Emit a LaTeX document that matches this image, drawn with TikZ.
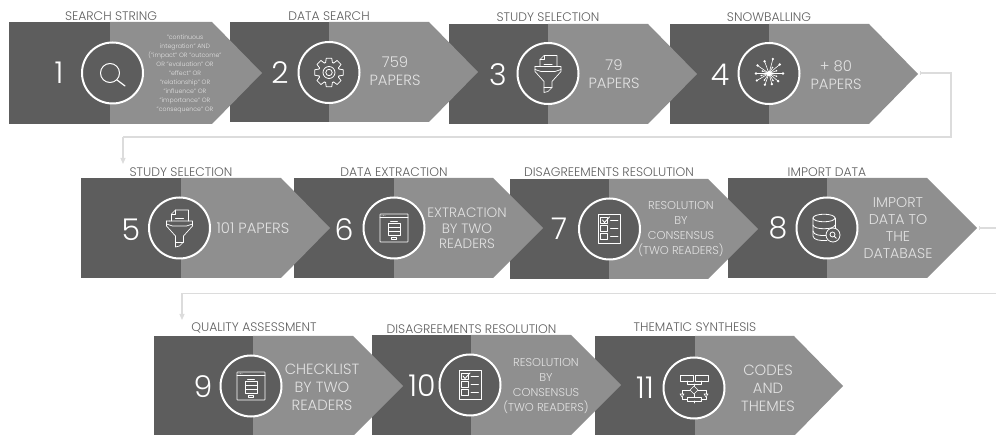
\documentclass[tikz,border=0pt]{standalone}
\usepackage{fontspec}
\setmainfont{Poppins Light}
\usetikzlibrary{arrows.meta}
\definecolor{darkp}{HTML}{5D5D5D}
\definecolor{lightp}{HTML}{8F8F8F}
\definecolor{txtp}{HTML}{E2E2E2}
\definecolor{ttlp}{HTML}{5F5F5F}
\definecolor{linkp}{HTML}{DCDCDC}
\tikzset{
  x=1pt,y=-1pt,
  ring/.style={circle,draw=white,fill=darkp,line width=2pt,minimum size=61pt,inner sep=0pt},
  numtxt/.style={text=white,inner sep=0pt,font=\fontsize{30}{30}\selectfont},
  ttl/.style={text=ttlp,inner sep=0pt,font=\fontsize{12.4}{13}\selectfont},
  body/.style={text=txtp,inner sep=0pt,align=center,font=\fontsize{14.8}{#1}\selectfont},
  body/.default=18,
  midbody/.style={text=txtp,inner sep=0pt,align=center,font=\fontsize{13.6}{15.5}\selectfont},
  dbbody/.style={text=txtp,inner sep=0pt,align=center,font=\fontsize{14.2}{17.3}\selectfont},
  smallbody/.style={text=txtp,inner sep=0pt,align=center,font=\fontsize{11.4}{15}\selectfont},
  tiny/.style={text=txtp,inner sep=0pt,align=center,font=\fontsize{6.2}{9}\selectfont},
  icon/.style={draw=white,line width=0.6pt,line join=round,line cap=round},
  iconthick/.style={draw=white,line width=1.2pt,line cap=round},
  link/.style={draw=linkp,line width=1.1pt,-{Triangle[width=5pt,length=6pt]}},
  linkstart/.style={draw=linkp,line width=1.1pt,{Bar[width=4pt,length=1pt]}-},
  linkplain/.style={draw=linkp,line width=1.1pt},
}
% #1 x-left #2 x-mid #3 x-body #4 x-tip #5 y-top #6 y-bottom
\newcommand{\arrowshape}[6]{%
  \fill[lightp] (#2,#5) -- (#3,#5) -- (#4,{(#5+#6)/2}) -- (#3,#6) -- (#2,#6) -- cycle;
  \fill[darkp] (#1,#5) rectangle (#2+0.3,#6);
}
\newcommand{\iconsearch}[1]{\begin{scope}[shift={(#1)}]
  \draw[icon,line width=1pt] (-2.5,0) circle (9.5);
  \draw[iconthick] (4.5,7) -- (12.5,13);
\end{scope}}
\newcommand{\icongear}[1]{\begin{scope}[shift={(#1)}]
  \foreach \a in {0,45,...,315}{
    \draw[icon,line width=0.8pt] (\a-24:10.5) -- (\a-19:10.5) -- (\a-11:14.5) -- (\a+11:14.5) -- (\a+19:10.5) -- (\a+24:10.5);
  }
  \draw[icon,line width=0.8pt] (0,0) circle (6) (0,0) circle (3.2);
\end{scope}}
\newcommand{\iconfunnel}[1]{\begin{scope}[shift={(#1)}]
  \draw[icon,line width=0.7pt] (-8,-7) -- (-8,-14) -- (-4,-18) -- (9,-18) -- (9,-7);
  \draw[icon,line width=0.7pt] (-4,-18) -- (-4,-14) -- (-8,-14);
  \draw[icon,line width=1pt] (-4,-9) -- (4,-9);
  \draw[icon,line width=0.7pt] (-10,-7) -- (10,-7) (-13,-7) -- (-13,-2) -- (-4,8) -- (-4,19) -- (0,18) -- (4,14) -- (4,8) -- (13,-2) -- (13,-7) -- (10,-7);
  \draw[icon,line width=0.7pt] (-13,-7) -- (-10,-7) (-13,-4) -- (-7,-2) -- (7,-2) -- (13,-4);
  \draw[icon] (-4,14) -- (4,14);
\end{scope}}
\newcommand{\iconsnow}[1]{\begin{scope}[shift={(#1)}]
  \foreach \a/\r in {0/14,40/12,75/11,110/12,150/14,180/13,215/14,250/13,285/15,320/14}{
    \draw[icon] (0,0) -- (\a:\r);
    \fill[white] (\a:\r) circle (1.3);
  }
  \foreach \a/\r in {20/8,60/8,125/8,165/8,200/7,300/7,340/8}{
    \draw[icon] (0,0) -- (\a:\r);
    \fill[white] (\a:\r) circle (0.9);
  }
  \fill[white] (0,0) circle (2.4);
\end{scope}}
\newcommand{\iconwindow}[1]{\begin{scope}[shift={(#1)}]
  \draw[icon,line width=0.7pt,rounded corners=0.5pt] (-14,-14) rectangle (14,14);
  \draw[icon] (-14,-10.5) -- (14,-10.5);
  \fill[white] (-12,-12.3) circle (0.4) (-10.5,-12.3) circle (0.4) (-9,-12.3) circle (0.4);
  \draw[icon] (-3.5,-7) -- (3.5,-7) (-6,-5) rectangle (6,-1) (-6,-1) rectangle (6,3) (-6,3) rectangle (6,7);
  \draw[icon] (-2.5,9) rectangle (2.5,11);
\end{scope}}
\newcommand{\iconlist}[1]{\begin{scope}[shift={(#1)}]
  \draw[icon,line width=0.7pt] (-11,-15) rectangle (11,14);
  \draw[icon,line width=0.8pt] (-9,-11.5) rectangle (-2,-5.5) (-9,-3.5) rectangle (-2,2) (-9,4.5) rectangle (-2,10.5);
  \draw[icon,line width=0.9pt] (-7,-9) -- (-5,-6.5) -- (0,-12);
  \draw[icon,line width=0.9pt] (1,-8.5) -- (8.5,-8.5) (1,-0.5) -- (8.5,-0.5) (1,7.5) -- (8.5,7.5);
\end{scope}}
\newcommand{\icondb}[1]{\begin{scope}[shift={(#1)}]
  \draw[icon,line width=0.8pt] (-3,-10) ellipse [x radius=11,y radius=3.8];
  \draw[icon,line width=0.8pt] (-14,-10) -- (-14,8) .. controls (-14,12) and (-6,13) .. (0,12.5);
  \draw[icon,line width=0.8pt] (8,-10) -- (8,0);
  \draw[icon,line width=0.8pt] (-14,-3) .. controls (-14,2) and (8,2) .. (8,-3);
  \draw[icon,line width=0.8pt] (-14,3) .. controls (-14,7) and (-6,8) .. (-1,7.5);
  \draw[icon,line width=0.8pt,fill=darkp] (6,7) circle (7);
  \draw[icon,line width=0.8pt] (5.5,6.5) circle (2.5) (7.4,8.4) -- (9.3,10.3);
\end{scope}}
\newcommand{\iconflow}[1]{\begin{scope}[shift={(#1)}]
  \draw[icon] (-14,-13) rectangle (-1,-7) (1,-13) rectangle (14,-7);
  \draw[icon] (-7,-7) -- (-7,-4) -- (7,-4) -- (7,-7) (0,-4) -- (0,-2);
  \draw[icon] (0,-2) -- (4,2) -- (0,6) -- (-4,2) -- cycle;
  \draw[icon] (-4,2) -- (-12,2) -- (-12,6) (4,2) -- (12,2) -- (12,6);
  \draw[icon] (-14,6) -- (-10,6) -- (-12,9) -- cycle (14,6) -- (10,6) -- (12,9) -- cycle;
  \draw[icon] (0,6) -- (0,9);
  \draw[icon] (-7,9) rectangle (7,13);
  \draw[icon] (-12,9) -- (-12,11) -- (-7,11) (12,9) -- (12,11) -- (7,11) (0,13) -- (0,15);
\end{scope}}
\begin{document}
\begin{tikzpicture}
\useasboundingbox (0,0) rectangle (996,435);
% --- row 1
\arrowshape{670}{769}{869}{918}{24}{124}
\arrowshape{449}{548}{648}{697}{24}{124}
\arrowshape{230}{329}{429}{478}{22}{122}
\arrowshape{9}{110}{212}{262}{22}{124}
% --- row 2
\arrowshape{728}{827}{927}{977}{178}{278}
\arrowshape{510}{609}{708}{758}{179}{279}
\arrowshape{294}{394}{493}{543}{178}{278}
\arrowshape{81}{181}{281}{330}{178}{278}
% --- row 3
\arrowshape{595}{695}{794}{843}{336}{436}
\arrowshape{372}{471}{571}{621}{335}{435}
\arrowshape{154}{253}{353}{403}{336}{436}
% --- rings
\node[ring] (c1) at (112.5,73) {};
\node[ring] (c2) at (329,72.5) {};
\node[ring] (c3) at (548,73.5) {};
\node[ring] (c4) at (769,73.5) {};
\node[ring] (c5) at (179.5,228) {};
\node[ring] (c6) at (394,228) {};
\node[ring] (c7) at (609.5,229) {};
\node[ring] (c8) at (827,228) {};
\node[ring] (c9) at (251,386) {};
\node[ring] (c10) at (470,385) {};
\node[ring] (c11) at (694,388) {};
\iconsearch{c1}
\icongear{c2}
\iconfunnel{c3}
\iconsnow{c4}
\iconfunnel{c5}
\iconwindow{c6}
\iconlist{c7}
\icondb{c8}
\iconwindow{c9}
\iconlist{c10}
\iconflow{c11}
% --- numbers
\node[numtxt] (n1) at (59,73) {1};
\node[numtxt] (n2) at (280,73) {2};
\node[numtxt] (n3) at (498,75) {3};
\node[numtxt] (n4) at (720,75) {4};
\node[numtxt] (n5) at (131,230) {5};
\node[numtxt] (n6) at (344,230) {6};
\node[numtxt] (n7) at (559,229) {7};
\node[numtxt] (n8) at (778,228) {8};
\node[numtxt] (n9) at (203,387) {9};
\node[numtxt] (n10) at (422,386) {10};
\node[numtxt] (n11) at (645,388) {11};
% --- titles
\node[ttl] (t1) at (111,16) {SEARCH STRING};
\node[ttl] (t2) at (329,16) {DATA SEARCH};
\node[ttl] (t3) at (548,17) {STUDY SELECTION};
\node[ttl] (t4) at (769,17) {SNOWBALLING};
\node[ttl] (t5) at (181,172) {STUDY SELECTION};
\node[ttl] (t6) at (394,172) {DATA EXTRACTION};
\node[ttl] (t7) at (609,172) {DISAGREEMENTS RESOLUTION};
\node[ttl] (t8) at (827,172) {IMPORT DATA};
\node[ttl] (t9) at (254,328) {QUALITY ASSESSMENT};
\node[ttl] (t10) at (471.5,329) {DISAGREEMENTS RESOLUTION};
\node[ttl] (t11) at (695,327) {THEMATIC SYNTHESIS};
% --- body texts
\node[tiny] (b1) at (185,73.5) {"continuous\\integration" AND\\("impact" OR "outcome"\\OR "evaluation" OR\\"effect" OR\\"relationship" OR\\"influence" OR\\"importance" OR\\"consequence" OR};
\node[body] (b2) at (395,71.5) {759\\PAPERS};
\node[body] (b3) at (614,74) {79\\PAPERS};
\node[body] (b4) at (836,75) {+ 80\\PAPERS};
\node[body] (b5) at (253,228) {101 PAPERS};
\node[midbody] (b6) at (467,228.5) {EXTRACTION\\BY TWO\\READERS};
\node[smallbody] (b7) at (681,229.5) {RESOLUTION\\BY\\CONSENSUS\\(TWO READERS)};
\node[dbbody] (b8) at (898,228) {IMPORT\\DATA TO\\THE\\DATABASE};
\node[body] (b9) at (322,387) {CHECKLIST\\BY TWO\\READERS};
\node[smallbody] (b10) at (546,386.5) {RESOLUTION\\BY\\CONSENSUS\\(TWO READERS)};
\node[body] (b11) at (768,388) {CODES\\AND\\THEMES};
% --- connectors
\coordinate (start4) at (920,73);
\coordinate (corner4a) at (951,73);
\coordinate (corner4b) at (951,137);
\coordinate (corner4c) at (123,137);
\coordinate (end5) at (123,164);
\draw[linkstart] (start4) -- (corner4a) -- (corner4b) -- (corner4c);
\draw[link] (corner4c) -- (end5);
\coordinate (start8) at (979,228);
\coordinate (edge8) at (996,228);
\coordinate (edge9) at (996,293.5);
\coordinate (corner9) at (182,293.5);
\coordinate (end9) at (182,320);
\draw[linkstart] (start8) -- (edge8);
\draw[linkplain] (edge9) -- (corner9);
\draw[link] (corner9) -- (end9);
\end{tikzpicture}
\end{document}
